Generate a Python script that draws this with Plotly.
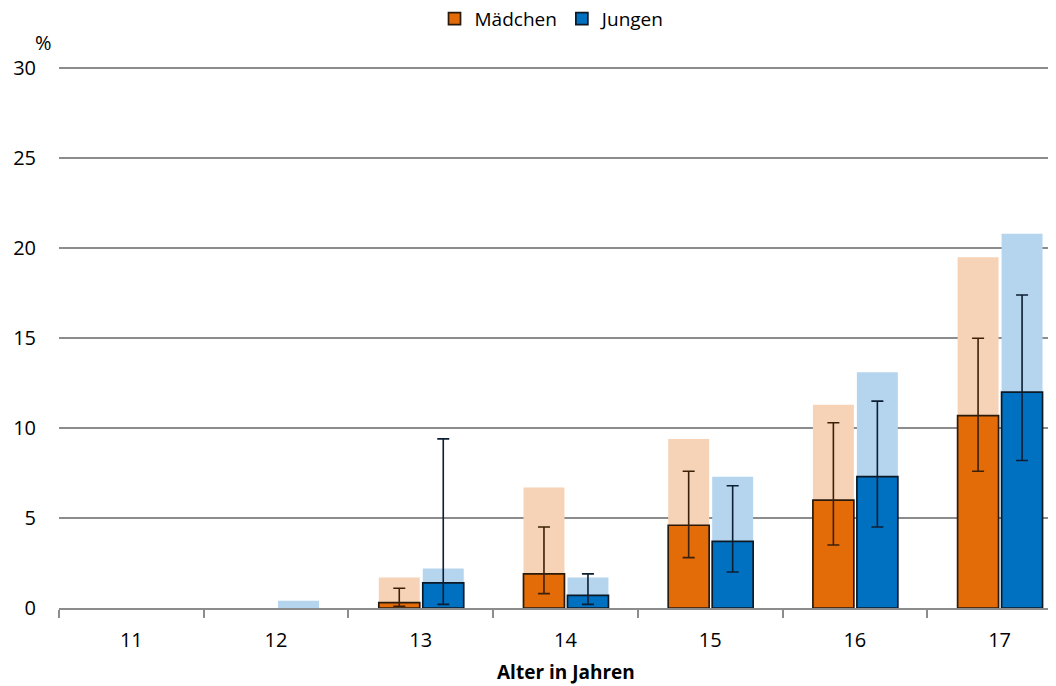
import plotly.graph_objects as go

ages = ["11", "12", "13", "14", "15", "16", "17"]

# light background bars (comparison values)
maedchen_light = [None, None, 1.7, 6.7, 9.4, 11.3, 19.5]
jungen_light = [None, 0.4, 2.2, 1.7, 7.3, 13.1, 20.8]

# main values
maedchen = [None, None, 0.3, 1.9, 4.6, 6.0, 10.7]
jungen = [None, None, 1.4, 0.7, 3.7, 7.3, 12.0]

# confidence intervals
maedchen_lo = [None, None, 0.1, 0.8, 2.8, 3.5, 7.6]
maedchen_hi = [None, None, 1.1, 4.5, 7.6, 10.3, 15.0]
jungen_lo = [None, None, 0.2, 0.2, 2.0, 4.5, 8.2]
jungen_hi = [None, None, 9.4, 1.9, 6.8, 11.5, 17.4]

ORANGE = "#E36C09"
BLUE = "#0070C0"
ORANGE_LIGHT = "#F6D3B6"
BLUE_LIGHT = "#B5D4EE"

W = 0.283
OFF_M = -0.29
OFF_J = 0.014

def err(vals, lo, hi):
    plus = [(h - v) if (h is not None and v is not None) else 0 for v, h in zip(vals, hi)]
    minus = [(v - l) if (l is not None and v is not None) else 0 for v, l in zip(vals, lo)]
    return plus, minus

mp, mm = err(maedchen, maedchen_lo, maedchen_hi)
jp, jm = err(jungen, jungen_lo, jungen_hi)

fig = go.Figure()
fig.add_trace(go.Bar(x=ages, y=maedchen_light, width=W, offset=OFF_M,
                     marker=dict(color=ORANGE_LIGHT, line=dict(width=0)),
                     showlegend=False, hoverinfo="skip"))
fig.add_trace(go.Bar(x=ages, y=jungen_light, width=W, offset=OFF_J,
                     marker=dict(color=BLUE_LIGHT, line=dict(width=0)),
                     showlegend=False, hoverinfo="skip"))
fig.add_trace(go.Bar(x=ages, y=maedchen, width=W, offset=OFF_M, name="Mädchen",
                     marker=dict(color=ORANGE, line=dict(color="#2a1a0c", width=1.7)),
                     error_y=dict(type="data", symmetric=False, array=mp, arrayminus=mm,
                                  color="#3d2008", thickness=1.6, width=6)))
fig.add_trace(go.Bar(x=ages, y=jungen, width=W, offset=OFF_J, name="Jungen",
                     marker=dict(color=BLUE, line=dict(color="#0d1a26", width=1.7)),
                     error_y=dict(type="data", symmetric=False, array=jp, arrayminus=jm,
                                  color="#0b1e33", thickness=1.6, width=6)))

fig.update_layout(
    width=1048, height=678,
    barmode="overlay",
    plot_bgcolor="white", paper_bgcolor="white",
    margin=dict(l=51, r=0, t=55, b=78, autoexpand=False),
    font=dict(family="Open Sans", size=20, color="#000000"),
    legend=dict(orientation="h", x=0.495, xanchor="center", y=1.081, yanchor="middle",
                font=dict(size=19), traceorder="normal", itemwidth=30),
    xaxis=dict(type="category", range=[-0.5, 6.39], showgrid=False,
               showline=True, linecolor="#8c8c8c", linewidth=2,
               ticks="outside", tickson="boundaries", ticklen=8, tickwidth=2,
               tickcolor="#8c8c8c", tickfont=dict(size=20), ticklabelstandoff=13),
    yaxis=dict(range=[0, 30.3], tickvals=[0, 5, 10, 15, 20, 25, 30],
               showgrid=True, gridcolor="#8c8c8c", gridwidth=2,
               zeroline=False, showline=False, tickfont=dict(size=20),
               ticklabelstandoff=22),
    annotations=[
        dict(text="%", xref="paper", yref="paper", x=-0.016, y=1.0385,
             xanchor="center", yanchor="middle", showarrow=False, font=dict(size=20)),
        dict(text="<b>Alter in Jahren</b>", xref="paper", yref="paper",
             x=0.5085, y=-0.117, xanchor="center", yanchor="middle",
             showarrow=False, font=dict(size=19)),
    ],
)

fig.write_html("out.html")
